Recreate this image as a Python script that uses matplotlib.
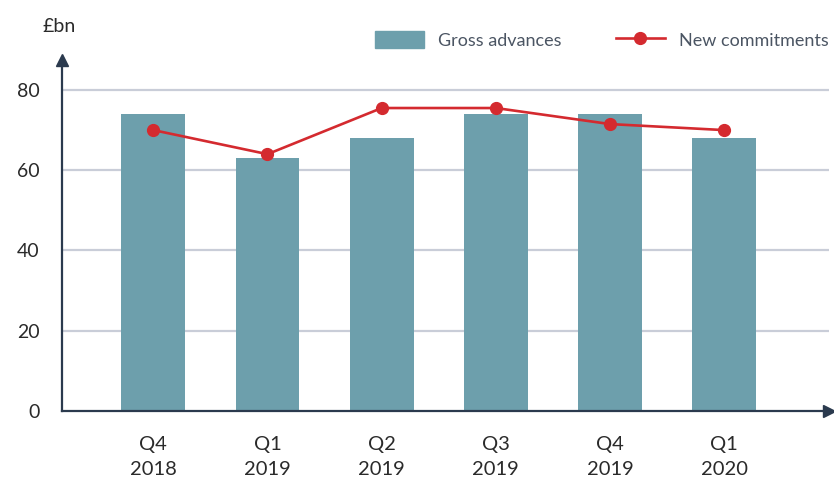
import numpy as np
import matplotlib.pyplot as plt
from matplotlib.lines import Line2D
from matplotlib.patches import Patch

plt.rcParams['font.family'] = ['Lato', 'DejaVu Sans']

# Data (£bn)
quarters = ['Q4\n2018', 'Q1\n2019', 'Q2\n2019', 'Q3\n2019', 'Q4\n2019', 'Q1\n2020']
gross_advances = [74, 63, 68, 74, 74, 68]
new_commitments = [70, 64, 75.5, 75.5, 71.5, 70]

bar_color = '#6d9fac'
line_color = '#d42a2f'
axis_color = '#2b3a4e'
grid_color = '#c9cdd8'
text_color = '#2a2a2a'

fig = plt.figure(figsize=(8.34, 4.79), dpi=100)
ax = fig.add_axes([0.0743, 0.142, 0.92, 0.733])

x = np.arange(len(quarters))
ax.bar(x, gross_advances, width=0.56, color=bar_color, zorder=2)
ax.plot(x, new_commitments, color=line_color, lw=1.9, marker='o', ms=8.5, zorder=3)

ax.set_xlim(-0.8, 5.92)
ax.set_ylim(0, 87.5)
ax.set_yticks([0, 20, 40, 60, 80])
ax.set_xticks(x)
ax.set_xticklabels(quarters, linespacing=1.55)
ax.tick_params(axis='y', length=0, pad=16, labelsize=14, labelcolor=text_color)
ax.tick_params(axis='x', length=0, pad=18, labelsize=14.5, labelcolor=text_color)

for v in [20, 40, 60, 80]:
    ax.axhline(v, color=grid_color, lw=1.6, zorder=1)

for s in ['top', 'right']:
    ax.spines[s].set_visible(False)
for s in ['left', 'bottom']:
    ax.spines[s].set_color(axis_color)
    ax.spines[s].set_linewidth(1.6)
    ax.spines[s].set_zorder(4)

# arrow heads on the axes
ax.plot(0, 1, marker='^', ms=9, color=axis_color, transform=ax.transAxes, clip_on=False, zorder=5)
ax.plot(1, 0, marker='>', ms=9, color=axis_color, transform=ax.transAxes, clip_on=False, zorder=5)

fig.text(0.051, 0.944, '£bn', fontsize=14, color=text_color, ha='left', va='center')

handles = [Patch(color=bar_color),
           Line2D([], [], color=line_color, lw=1.9, marker='o', ms=8.5)]
fig.legend(handles, ['Gross advances', 'New commitments'], ncol=2, frameon=False,
           loc='center right', bbox_to_anchor=(1.013, 0.917), fontsize=13,
           labelcolor='#4b5563', handlelength=2.75, handleheight=1.1,
           columnspacing=3.0, handletextpad=0.75)

fig.savefig('out.png', dpi=100)
